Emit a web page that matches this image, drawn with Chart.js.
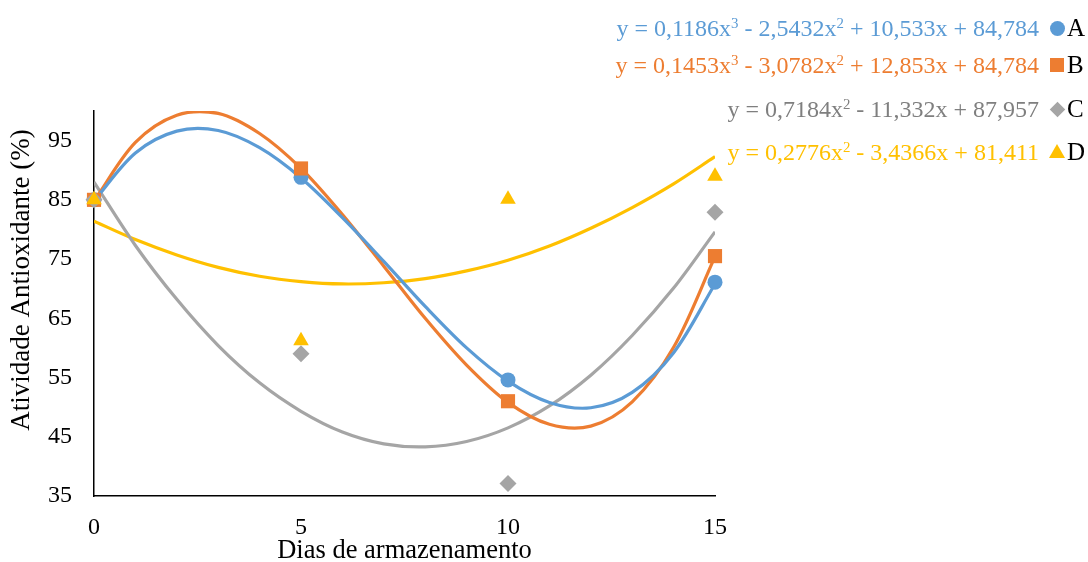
<!DOCTYPE html>
<html>
<head>
<meta charset="utf-8">
<script src="https://cdn.jsdelivr.net/npm/chart.js@4/dist/chart.umd.min.js"></script>
<style>
  html, body { margin: 0; padding: 0; background: #fff; }
  #wrap { position: relative; width: 1088px; height: 562px; font-family: "Liberation Serif", "Times New Roman", serif; }
  .eq { position: absolute; right: 49px; height: 26px; line-height: 26px; font-size: 24px; white-space: nowrap; }
  .eq sup { font-size: 0.62em; vertical-align: 0; position: relative; top: -0.55em; }
  .key { position: absolute; left: 1067px; height: 26px; line-height: 26px; font-size: 25px; color: #000; }
  .mk { position: absolute; }
</style>
</head>
<body>
<div id="wrap">
  <canvas id="chart"></canvas>
  <div id="legend"></div>
</div>
<script>
// ── data ────────────────────────────────────────────────────────────
const days   = [0, 5, 10, 15];
const serieA = [85, 88.8, 54.6, 71.1];
const serieB = [85, 90.3, 51.0, 75.5];
const serieC = [85, 59.0, 37.1, 82.9];
const serieD = [85, 61.2, 85.1, 89.0];

// trendline values, day 0..15
const trendDays = [0, 1, 2, 3, 4, 5, 6, 7, 8, 9, 10, 11, 12, 13, 14, 15];
const trendA = [84.8, 92.9, 96.6, 96.7, 93.8, 88.7, 82.0, 74.6, 67.0, 60.0, 54.4, 50.8, 49.9, 52.5, 59.2, 70.8];
const trendB = [84.8, 94.7, 99.3, 99.6, 96.2, 90.3, 82.5, 73.8, 65.0, 57.1, 50.8, 47.1, 46.8, 50.9, 60.1, 75.4];
const trendC = [88.0, 77.3, 68.2, 60.4, 54.1, 49.3, 45.8, 43.8, 43.3, 44.2, 46.5, 50.2, 55.4, 62.1, 70.1, 79.6];
const trendD = [81.4, 78.3, 75.7, 73.6, 72.1, 71.2, 70.8, 71.0, 71.7, 73.0, 74.8, 77.2, 80.2, 83.7, 87.7, 92.3];

const xTicks = [0, 5, 10, 15];
const yTicks = [35, 45, 55, 65, 75, 85, 95];

const names     = ['A', 'B', 'C', 'D'];
const equations = [
  'y = 0,1186x<sup>3</sup> - 2,5432x<sup>2</sup> + 10,533x + 84,784',
  'y = 0,1453x<sup>3</sup> - 3,0782x<sup>2</sup> + 12,853x + 84,784',
  'y = 0,7184x<sup>2</sup> - 11,332x + 87,957',
  'y = 0,2776x<sup>2</sup> - 3,4366x + 81,411',
];

const xTitle = 'Dias de armazenamento';
const yTitle = 'Atividade Antioxidante (%)';

// ── styles ──────────────────────────────────────────────────────────
const COLORS   = ['#5B9BD5', '#ED7D31', '#A5A5A5', '#FFC000'];
const EQ_COLOR = ['#5B9BD5', '#ED7D31', '#7F7F7F', '#FFC000'];
const SHAPES   = ['circle', 'rect', 'rectRot', 'triangle'];
const RADII    = [7.5, 10, 8.5, 9];
const FONT     = '"Liberation Serif", "Times New Roman", serif';

const pts = (xs, ys) => xs.map((x, i) => ({ x, y: ys[i] }));

const series = [serieA, serieB, serieC, serieD];
const trends = [trendA, trendB, trendC, trendD];

const datasets = [];
series.forEach((s, i) => {
  datasets.push({
    label: names[i],
    data: pts(days, s),
    showLine: false,
    pointStyle: SHAPES[i],
    pointRadius: RADII[i],
    pointBackgroundColor: COLORS[i],
    pointBorderWidth: 0,
    clip: false,
    order: 3 - i,
  });
});
trends.forEach((t, i) => {
  datasets.push({
    label: 'trend ' + names[i],
    data: pts(trendDays, t),
    showLine: true,
    borderColor: COLORS[i],
    borderWidth: 3.2,
    pointRadius: 0,
    tension: 0.33,
    order: 4 + i,
  });
});

// y axis title drawn by hand so it sits where the original has it
const yTitlePlugin = {
  id: 'yTitle',
  afterDraw(chart) {
    const ctx = chart.ctx;
    ctx.save();
    ctx.translate(22, 280);
    ctx.rotate(-Math.PI / 2);
    ctx.font = '27px ' + FONT;
    ctx.fillStyle = '#000';
    ctx.textAlign = 'center';
    ctx.textBaseline = 'middle';
    ctx.fillText(yTitle, 0, 0);
    ctx.restore();
  },
};

new Chart(document.getElementById('chart'), {
  type: 'scatter',
  data: { datasets },
  options: {
    responsive: true,
    maintainAspectRatio: false,
    animation: false,
    events: [],
    layout: { padding: { top: 111, right: 373, bottom: 0, left: 0 } },
    plugins: { legend: { display: false }, tooltip: { enabled: false } },
    scales: {
      x: {
        type: 'linear',
        min: 0, max: 15,
        afterBuildTicks: s => { s.ticks = xTicks.map(v => ({ value: v })); },
        afterFit: s => { s.height = 66; },
        grid: { display: false, drawTicks: false },
        border: { display: true, color: '#000', width: 1.5 },
        ticks: { color: '#000', padding: 17, font: { family: FONT, size: 24 } },
        title: { display: true, text: xTitle, color: '#000', padding: { top: 0, bottom: -2 },
                 font: { family: FONT, size: 26.5, lineHeight: 1 } },
      },
      y: {
        type: 'linear',
        min: 35, max: 100,
        afterBuildTicks: s => { s.ticks = yTicks.map(v => ({ value: v })); },
        afterFit: s => { s.width = 94; },
        grid: { display: false, drawTicks: false },
        border: { display: true, color: '#000', width: 1.5 },
        ticks: { color: '#000', padding: 22, font: { family: FONT, size: 24 } },
      },
    },
  },
  plugins: [yTitlePlugin],
});

// ── legend with trendline equations ─────────────────────────────────
const rowY = [28, 65, 109, 152];
const legend = document.getElementById('legend');
names.forEach((n, i) => {
  const eq = document.createElement('div');
  eq.className = 'eq';
  eq.style.top = (rowY[i] - 13) + 'px';
  eq.style.color = EQ_COLOR[i];
  eq.innerHTML = equations[i];
  legend.appendChild(eq);

  const mk = document.createElement('div');
  mk.className = 'mk';
  const cx = 1057, cy = rowY[i];
  if (SHAPES[i] === 'circle') {
    Object.assign(mk.style, { left: (cx - 7.5) + 'px', top: (cy - 7.5) + 'px', width: '15px', height: '15px',
      borderRadius: '50%', background: COLORS[i] });
  } else if (SHAPES[i] === 'rect') {
    Object.assign(mk.style, { left: (cx - 7) + 'px', top: (cy - 7) + 'px', width: '14px', height: '14px',
      background: COLORS[i] });
  } else if (SHAPES[i] === 'rectRot') {
    Object.assign(mk.style, { left: (cx - 5.5) + 'px', top: (cy - 5.5) + 'px', width: '11px', height: '11px',
      background: COLORS[i], transform: 'rotate(45deg)' });
  } else {
    Object.assign(mk.style, { left: (cx - 8) + 'px', top: (cy - 8) + 'px', width: 0, height: 0,
      borderLeft: '8px solid transparent', borderRight: '8px solid transparent',
      borderBottom: '14px solid ' + COLORS[i] });
  }
  legend.appendChild(mk);

  const key = document.createElement('div');
  key.className = 'key';
  key.style.top = (rowY[i] - 13) + 'px';
  key.textContent = n;
  legend.appendChild(key);
});
</script>
</body>
</html>
